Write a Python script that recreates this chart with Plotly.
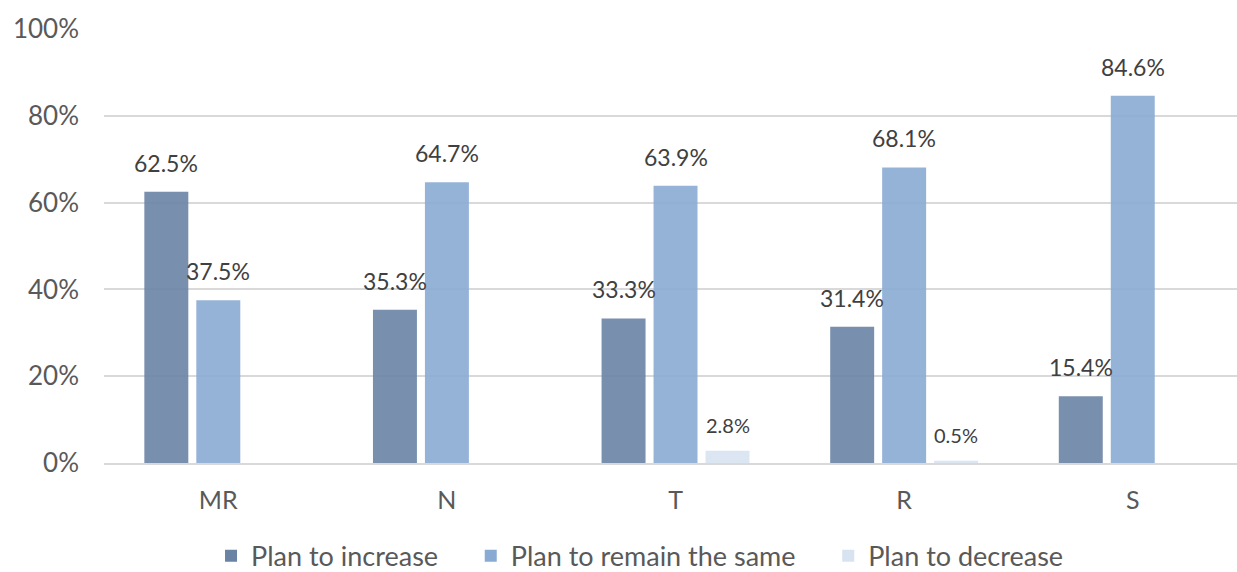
import plotly.graph_objects as go

categories = ["MR", "N", "T", "R", "S"]
plan_increase = [62.5, 35.3, 33.3, 31.4, 15.4]
plan_same = [37.5, 64.7, 63.9, 68.1, 84.6]
plan_decrease = [None, None, 2.8, 0.5, None]
series_names = ["Plan to increase", "Plan to remain the same", "Plan to decrease"]
colors = ["#6983A5", "#89ABD3", "#D8E3F1"]
y_ticks = [0, 20, 40, 60, 80, 100]
y_tick_labels = ["0%", "20%", "40%", "60%", "80%", "100%"]

FONT = "Lato"
bargap = 0.318
series = [plan_increase, plan_same, plan_decrease]
PAD = "\u00a0" * 4

fig = go.Figure()
for i, (name, vals, col) in enumerate(zip(series_names, series, colors)):
    fig.add_trace(go.Bar(
        x=categories, y=vals, name=name + (PAD if i < 2 else ""),
        marker=dict(color=col, opacity=0.9, line=dict(width=0)),
    ))

slot = (1 - bargap) / 3
for si, vals in enumerate(series):
    for ci, v in enumerate(vals):
        if v is None:
            continue
        fig.add_annotation(
            x=ci + (si - 1) * slot, y=v, text=f"{v:.1f}%",
            showarrow=False, yanchor="middle",
            yshift=26 if si == 2 else 29,
            font=dict(family=FONT, size=20 if si == 2 else 23, color="#404040"),
        )

fig.update_layout(
    width=1237, height=572,
    margin=dict(l=104, r=0, t=29, b=109, autoexpand=False),
    paper_bgcolor="white", plot_bgcolor="white",
    barmode="group", bargap=bargap, bargroupgap=0.154,
    font=dict(family=FONT, color="#595959"),
    showlegend=True,
    legend=dict(orientation="h", xref="container", x=0.5174, xanchor="center",
                y=-0.215, yanchor="middle",
                font=dict(family=FONT, size=27, color="#595959"),
                itemwidth=30, tracegroupgap=0),
)
fig.update_xaxes(
    type="category", range=[-0.5, 4.456], automargin=False,
    showline=True, linecolor="#D9D9D9", linewidth=1.5,
    showgrid=False, ticks="", ticklabelstandoff=14,
    tickfont=dict(family=FONT, size=25, color="#595959"),
)
fig.update_yaxes(
    range=[0, 100], tickvals=y_ticks, ticktext=y_tick_labels, automargin=False,
    showgrid=True, gridcolor="#D9D9D9", gridwidth=1.5,
    zeroline=False, showline=False, ticks="", ticklabelstandoff=24,
    tickfont=dict(family=FONT, size=26, color="#595959"),
)

fig.write_html("out.html")
